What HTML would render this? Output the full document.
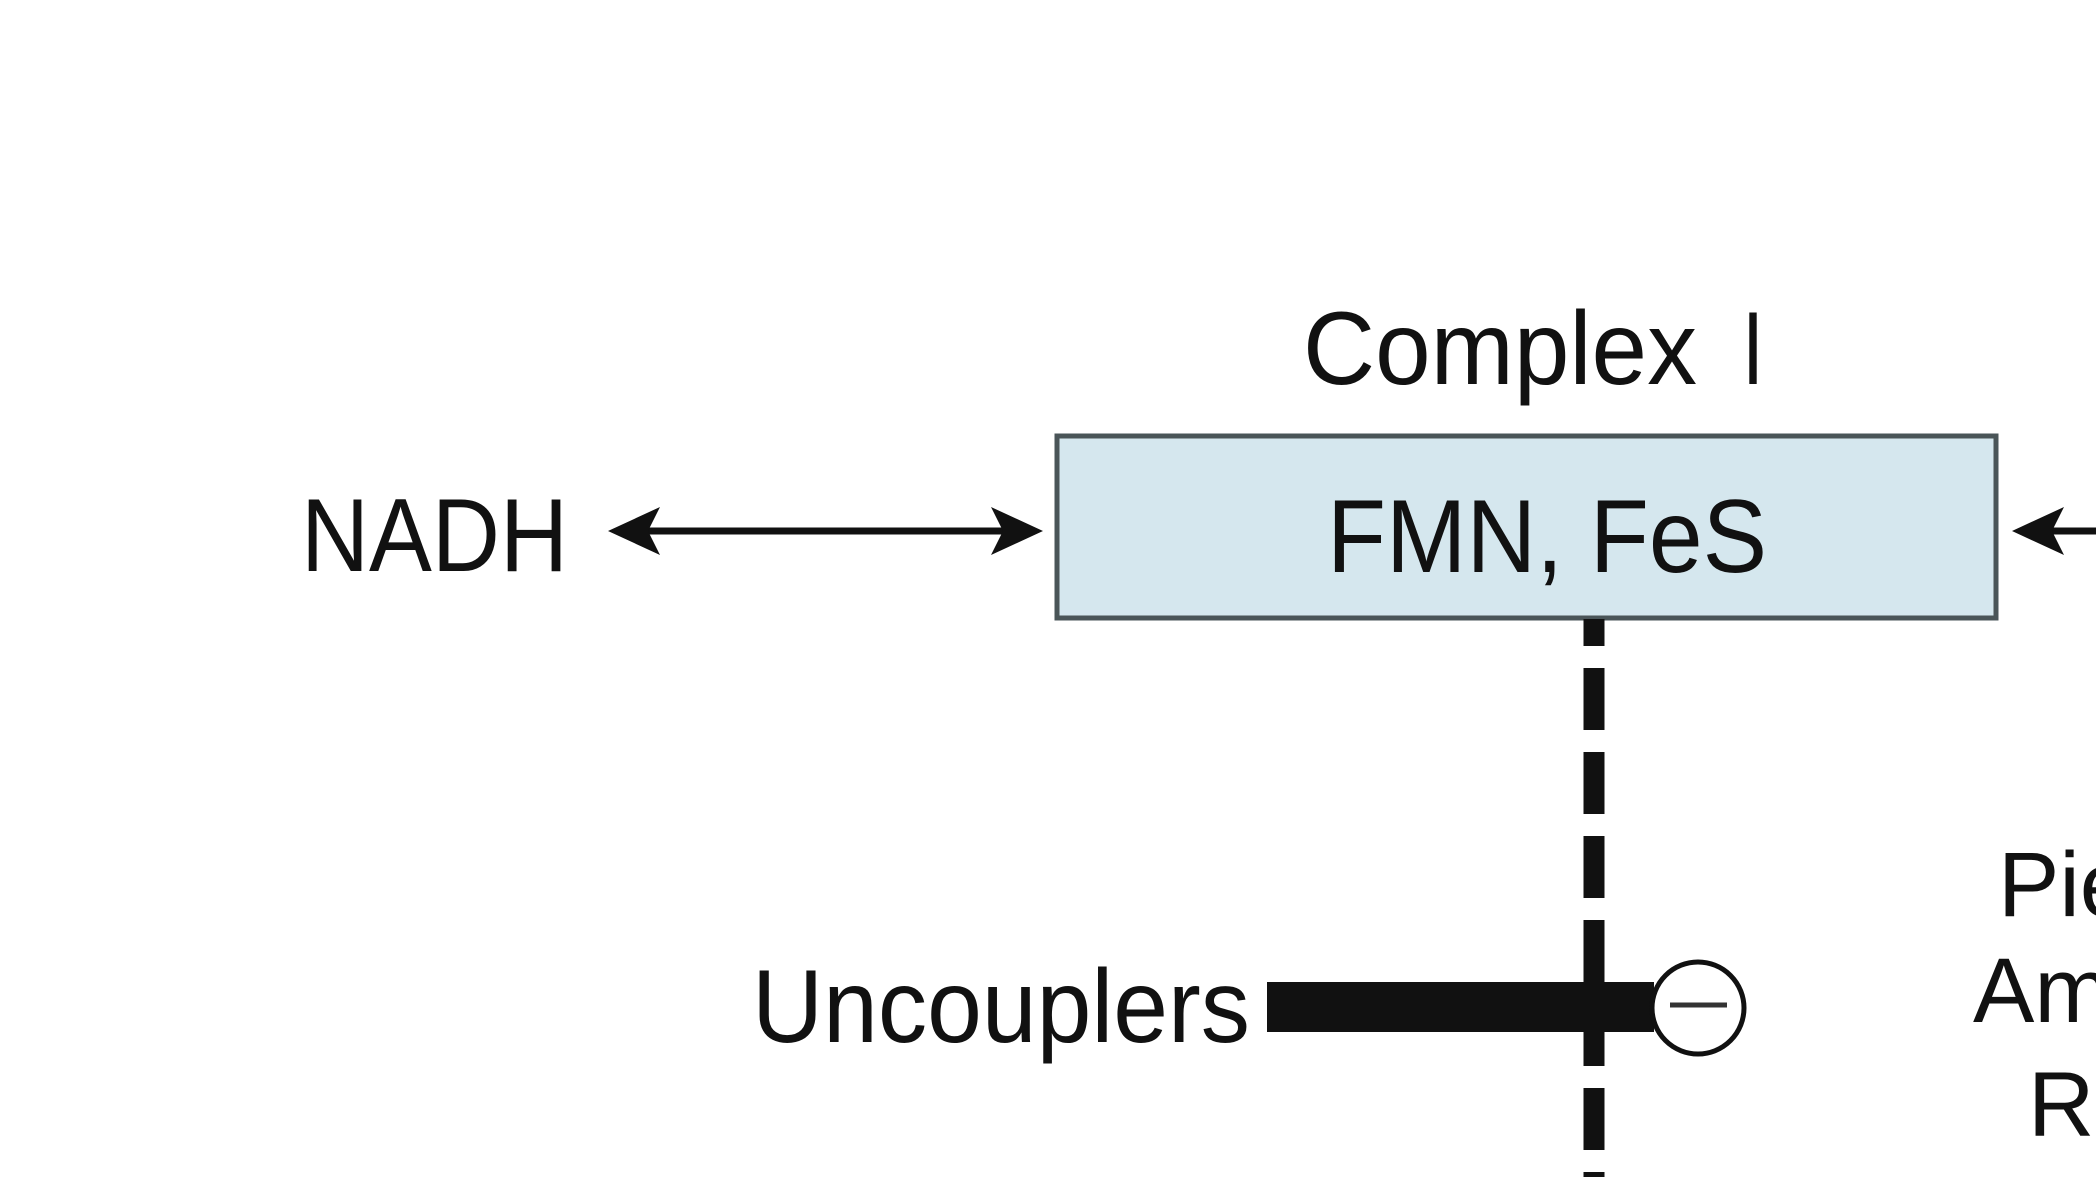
<!DOCTYPE html>
<html><head><meta charset="utf-8"><style>
html,body{margin:0;padding:0;background:#fff;}
svg{display:block;}
text{font-family:"Liberation Sans",Arial,sans-serif;fill:#111;}
</style></head><body>
<svg width="2096" height="1177" viewBox="0 0 2096 1177" xmlns="http://www.w3.org/2000/svg">
<rect x="0" y="0" width="2096" height="1177" fill="#fff"/>
<text x="1303" y="384" font-size="104" textLength="394" lengthAdjust="spacingAndGlyphs">Complex</text>
<text x="1742" y="384" font-size="104" textLength="22" lengthAdjust="spacingAndGlyphs">I</text>
<rect x="1057" y="436" width="939" height="182" fill="#d5e7ee" stroke="#4a5558" stroke-width="5"/>
<text x="1327" y="572" font-size="104" textLength="440" lengthAdjust="spacingAndGlyphs">FMN, FeS</text>
<text x="301" y="571" font-size="104" textLength="267" lengthAdjust="spacingAndGlyphs">NADH</text>
<line x1="640" y1="531" x2="1010" y2="531" stroke="#111" stroke-width="7"/>
<polygon points="608,531 660,507 648,531 660,555" fill="#111"/>
<polygon points="1043,531 991,507 1003,531 991,555" fill="#111"/>
<line x1="2040" y1="531" x2="2096" y2="531" stroke="#111" stroke-width="7"/>
<polygon points="2012,531 2064,507 2052,531 2064,555" fill="#111"/>
<line x1="1594" y1="619" x2="1594" y2="1177" stroke="#111" stroke-width="21" stroke-dasharray="62 22" stroke-dashoffset="35"/>
<text x="752" y="1042" font-size="104" textLength="498" lengthAdjust="spacingAndGlyphs">Uncouplers</text>
<rect x="1267" y="982" width="387" height="50" fill="#111"/>
<circle cx="1698" cy="1008" r="46" fill="#fff" stroke="#111" stroke-width="5"/>
<line x1="1670" y1="1005" x2="1727" y2="1005" stroke="#333" stroke-width="5"/>
<text x="1998" y="916" font-size="92">Pie</text>
<text x="1973" y="1022" font-size="92">Am</text>
<text x="2028" y="1136" font-size="92">Re</text>
</svg>
</body></html>
